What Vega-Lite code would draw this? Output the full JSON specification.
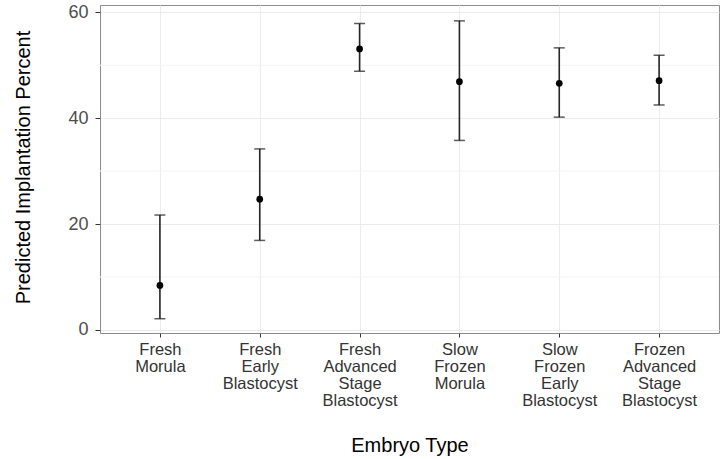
{
  "$schema": "https://vega.github.io/schema/vega-lite/v6.json",
  "autosize": "none",
  "width": 619,
  "height": 328,
  "padding": {"left": 100, "top": 5, "right": 5, "bottom": 126},
  "background": "white",
  "config": {
    "font": "Liberation Sans",
    "view": {"stroke": "#8c8c8c", "strokeWidth": 1}
  },
  "datasets": {
    "pts": [
      {"type": "Fresh Morula", "est": 8.4, "lo": 2.1, "hi": 21.7},
      {"type": "Fresh Early Blastocyst", "est": 24.7, "lo": 16.9, "hi": 34.2},
      {"type": "Fresh Advanced Stage Blastocyst", "est": 53.1, "lo": 48.9, "hi": 57.9},
      {"type": "Slow Frozen Morula", "est": 46.9, "lo": 35.8, "hi": 58.4},
      {"type": "Slow Frozen Early Blastocyst", "est": 46.6, "lo": 40.2, "hi": 53.3},
      {"type": "Frozen Advanced Stage Blastocyst", "est": 47.1, "lo": 42.5, "hi": 51.9}
    ],
    "minor": [{"v": 10}, {"v": 30}, {"v": 50}]
  },
  "layer": [
    {
      "data": {"name": "minor"},
      "mark": {"type": "rule", "color": "#F4F4F4", "strokeWidth": 1},
      "encoding": {
        "y": {"field": "v", "type": "quantitative", "scale": {"domain": [-0.6, 61.4], "nice": false, "zero": false}}
      }
    },
    {
      "data": {"name": "pts"},
      "mark": {"type": "rule", "color": "#262626", "strokeWidth": 1.6},
      "encoding": {
        "x": {
          "field": "type", "type": "nominal", "sort": null,
          "scale": {"type": "point", "padding": 0.6},
          "title": "Embryo Type",
          "axis": {
            "labelAngle": 0,
            "labelExpr": "split(datum.label, ' ')",
            "labelFontSize": 16.5,
            "labelLineHeight": 17,
            "labelColor": "#333333",
            "labelPadding": 4,
            "labelBaseline": "top",
            "tickSize": 4,
            "tickColor": "#333333",
            "domain": false,
            "grid": true,
            "gridColor": "#EBEBEB",
            "gridWidth": 1.1,
            "titleFontSize": 20,
            "titleFontWeight": "normal",
            "titleColor": "#000000",
            "titleY": 118,
            "titleBaseline": "alphabetic"
          }
        },
        "y": {
          "field": "lo", "type": "quantitative",
          "scale": {"domain": [-0.6, 61.4], "nice": false, "zero": false},
          "title": "Predicted Implantation Percent",
          "axis": {
            "values": [0, 20, 40, 60],
            "labelFontSize": 18,
            "labelColor": "#4D4D4D",
            "labelPadding": 7,
            "tickSize": 5,
            "tickColor": "#333333",
            "domain": false,
            "grid": true,
            "gridColor": "#EBEBEB",
            "gridWidth": 1.1,
            "titleFontSize": 20,
            "titleFontWeight": "normal",
            "titleColor": "#000000",
            "titleAngle": 270,
            "titleX": -71,
            "titleY": 162,
            "titleAlign": "center",
            "titleBaseline": "alphabetic"
          }
        },
        "y2": {"field": "hi"}
      }
    },
    {
      "data": {"name": "pts"},
      "mark": {"type": "tick", "color": "#1a1a1a", "size": 11, "thickness": 1.5},
      "encoding": {
        "x": {"field": "type", "type": "nominal", "sort": null},
        "y": {"field": "lo", "type": "quantitative"}
      }
    },
    {
      "data": {"name": "pts"},
      "mark": {"type": "tick", "color": "#1a1a1a", "size": 11, "thickness": 1.5},
      "encoding": {
        "x": {"field": "type", "type": "nominal", "sort": null},
        "y": {"field": "hi", "type": "quantitative"}
      }
    },
    {
      "data": {"name": "pts"},
      "mark": {"type": "point", "filled": true, "color": "#000000", "size": 45, "opacity": 1},
      "encoding": {
        "x": {"field": "type", "type": "nominal", "sort": null},
        "y": {"field": "est", "type": "quantitative"}
      }
    }
  ]
}
